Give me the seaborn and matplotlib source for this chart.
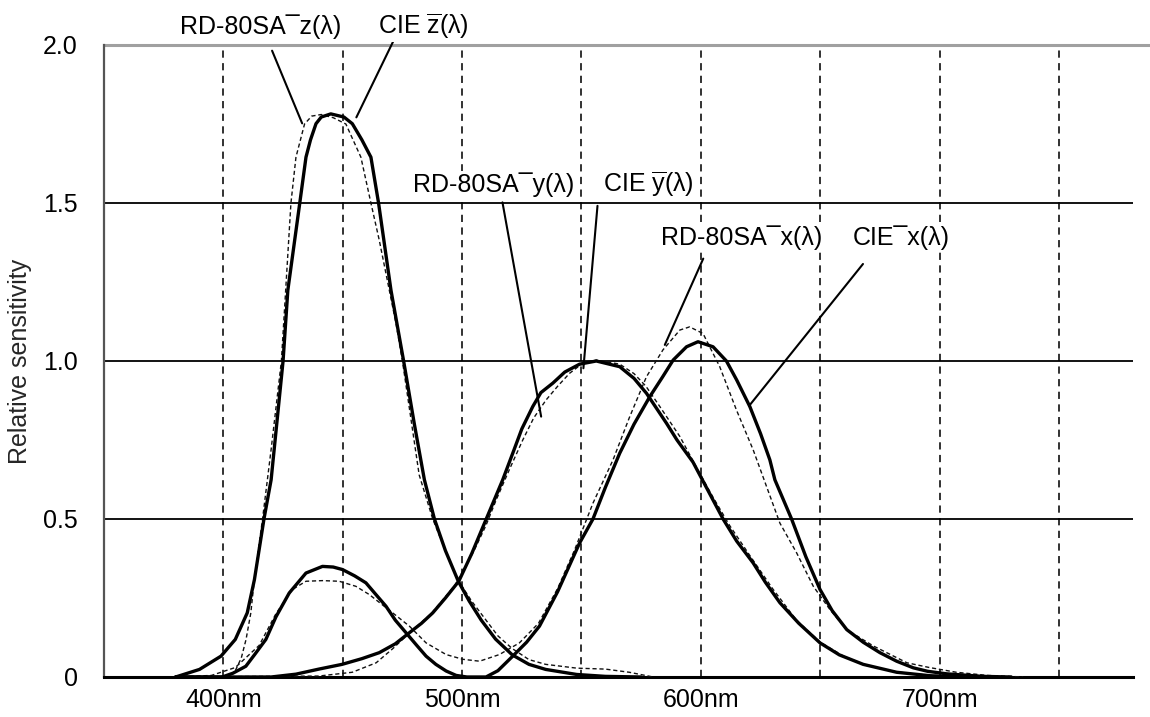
import pandas as pd
import matplotlib.pyplot as plt
import seaborn as sns

sns.set_theme(style="white")
plt.rcParams['font.family'] = ['Liberation Sans', 'DejaVu Sans']
plt.rcParams['mathtext.fontset'] = 'custom'
plt.rcParams['mathtext.rm'] = 'Liberation Sans'
plt.rcParams['mathtext.it'] = 'Liberation Sans'

# ---------------------------------------------------------
# Data (wavelength nm -> relative sensitivity)
# ---------------------------------------------------------
rd_z_wl = [380, 390, 399, 405, 410, 413, 417, 420, 425, 427, 432, 434.6, 436.5, 438.8, 441, 445,
           450.5, 454, 458, 461.8, 465, 470.2, 475.5, 480, 484.2, 488.4, 493, 498.4, 503, 508, 514,
           521, 528, 535, 548, 560, 575]
rd_z_val = [0, 0.024, 0.066, 0.119, 0.203, 0.308, 0.5, 0.624, 1.0, 1.224, 1.5, 1.645, 1.70, 1.751,
            1.772, 1.782, 1.772, 1.751, 1.70, 1.645, 1.5, 1.224, 1.0, 0.80, 0.624, 0.5, 0.40, 0.303,
            0.24, 0.18, 0.12, 0.07, 0.04, 0.024, 0.008, 0.002, 0]

cie_z_wl = [380, 402, 405, 407.5, 409.5, 411.5, 413, 416.4, 420, 424.3, 428.3, 430.4, 434, 437, 441,
            446, 451.3, 457.6, 461.8, 465.3, 472.3, 475, 482, 487.7, 493, 498, 504, 509, 515, 521,
            528, 535, 548, 560, 570, 580]
cie_z_val = [0, 0, 0.02, 0.06, 0.119, 0.203, 0.31, 0.5, 0.72, 1.0, 1.5, 1.645, 1.75, 1.775, 1.78,
             1.77, 1.75, 1.645, 1.5, 1.382, 1.119, 1.0, 0.64, 0.5, 0.4, 0.31, 0.24, 0.19, 0.13, 0.09,
             0.055, 0.04, 0.028, 0.025, 0.015, 0]

rd_y_wl = [380, 420, 430.4, 440, 449.7, 458, 465.3, 472, 477.9, 483, 487.7, 493, 498.6, 504, 510.1,
           517, 521.2, 525, 529.6, 533, 538, 543, 549.2, 556.2, 566, 572, 577.2, 585.6, 590, 596.7,
           603, 609.3, 615, 621.9, 627, 633.1, 641, 649.9, 658, 668, 682, 696, 710]
rd_y_val = [0, 0, 0.009, 0.025, 0.04, 0.058, 0.077, 0.105, 0.14, 0.17, 0.203, 0.25, 0.303, 0.39, 0.5,
            0.624, 0.708, 0.785, 0.856, 0.90, 0.93, 0.965, 0.99, 1.0, 0.982, 0.945, 0.898, 0.803,
            0.75, 0.680, 0.59, 0.5, 0.43, 0.361, 0.30, 0.235, 0.17, 0.108, 0.07, 0.04, 0.015, 0.004, 0]

cie_y_wl = [380, 440, 454, 464, 471, 478, 487, 497, 505, 510, 514.3, 520, 525.4, 530, 535.2, 540,
            545, 550, 556.2, 566, 572, 577, 582.8, 591.2, 599.5, 605, 612, 620, 630, 640, 650, 660,
            670, 682, 696, 715]
cie_y_val = [0, 0.003, 0.015, 0.045, 0.09, 0.14, 0.2, 0.29, 0.40, 0.48, 0.561, 0.66, 0.75, 0.82,
             0.877, 0.92, 0.961, 0.99, 1.003, 0.99, 0.96, 0.92, 0.856, 0.761, 0.645, 0.57, 0.48, 0.39,
             0.28, 0.18, 0.11, 0.065, 0.035, 0.016, 0.005, 0]

rd_x_wl = [380, 399.5, 404, 409.4, 413, 417.8, 422, 427.6, 434.6, 441.5, 446, 449.9, 455, 459.7, 464,
           468.1, 472, 476.5, 481, 484.9, 489, 493.3, 497.5, 502, 510, 515, 521.2, 527, 532.4, 540,
           549.2, 554.8, 560, 566, 572, 578.6, 584, 588.4, 594, 598.8, 605.1, 610.7, 615, 620.5, 625,
           628.9, 631, 638, 644, 649.9, 655, 661.1, 668, 675, 682, 689, 695, 703, 718, 730]
rd_x_val = [0, 0, 0.012, 0.034, 0.07, 0.119, 0.19, 0.266, 0.329, 0.350, 0.348, 0.34, 0.32, 0.298,
            0.26, 0.224, 0.18, 0.14, 0.10, 0.066, 0.04, 0.019, 0.005, 0, 0, 0.02, 0.066, 0.11, 0.161,
            0.27, 0.424, 0.5, 0.6, 0.708, 0.8, 0.887, 0.95, 1.003, 1.045, 1.061, 1.045, 1.0, 0.94,
            0.856, 0.77, 0.687, 0.624, 0.5, 0.38, 0.277, 0.21, 0.15, 0.11, 0.077, 0.05, 0.029, 0.018,
            0.01, 0.002, 0]

cie_x_wl = [380, 395, 405, 415, 422, 428.9, 434.6, 441.5, 448.5, 455.5, 461.1, 470.9, 477.9, 484.9,
            493.3, 500.3, 507.3, 515.6, 524, 532, 540, 547, 554.8, 563.2, 570, 577.2, 584.1, 591.2,
            595.3, 600.9, 607.9, 614.9, 621.9, 627.5, 633.1, 640.1, 647.1, 654.1, 661, 672.3, 686.3,
            695.7, 707, 720, 735]
cie_x_val = [0, 0.005, 0.03, 0.1, 0.2, 0.277, 0.303, 0.305, 0.303, 0.287, 0.261, 0.203, 0.161, 0.108,
             0.071, 0.056, 0.05, 0.071, 0.108, 0.17, 0.28, 0.40, 0.55, 0.687, 0.82, 0.95, 1.035,
             1.098, 1.108, 1.087, 0.982, 0.845, 0.719, 0.603, 0.487, 0.393, 0.287, 0.213, 0.15,
             0.098, 0.045, 0.03, 0.015, 0.005, 0]

x_ticks = [400, 500, 600, 700]
x_tick_labels = ["400nm", "500nm", "600nm", "700nm"]
x_grid = [400, 450, 500, 550, 600, 650, 700, 750]
y_ticks = [0, 0.5, 1.0, 1.5, 2.0]
y_tick_labels = ["0", "0.5", "1.0", "1.5", "2.0"]

# ---------------------------------------------------------
# Figure
# ---------------------------------------------------------
fig = plt.figure(figsize=(11.5, 7.17), dpi=100)
ax = fig.add_axes([104 / 1150, 1 - 677 / 717, (1133 - 104) / 1150, (677 - 45) / 717])

# grid
for xv in x_grid:
    ax.axvline(xv, color='#222222', lw=1.3, dashes=(4, 3), zorder=1)
for yv in [0.5, 1.0, 1.5]:
    ax.axhline(yv, color='black', lw=1.3, zorder=1)
ax.axhline(2.0, xmin=0, xmax=(1150 - 104) / (1133 - 104), color='#a0a0a0', lw=2.2, clip_on=False, zorder=1)

# curves
solid = [(rd_z_wl, rd_z_val), (rd_y_wl, rd_y_val), (rd_x_wl, rd_x_val)]
dashed = [(cie_z_wl, cie_z_val), (cie_y_wl, cie_y_val), (cie_x_wl, cie_x_val)]
for wl, val in dashed:
    sns.lineplot(x=wl, y=val, ax=ax, color='#111111', lw=1.0, estimator=None,
                 sort=False, zorder=3).lines[-1].set_dashes((3, 2))
for wl, val in solid:
    sns.lineplot(x=wl, y=val, ax=ax, color='black', lw=2.4, estimator=None, sort=False, zorder=4)

ax.set_xlim(350, 781)
ax.set_ylim(0, 2.0)
ax.set_xticks(x_ticks)
ax.set_xticklabels(x_tick_labels)
ax.set_yticks(y_ticks)
ax.set_yticklabels(y_tick_labels)
ax.tick_params(axis='both', length=0, labelsize=18, colors='black')
ax.tick_params(axis='y', pad=19)
ax.tick_params(axis='x', pad=8)
ax.set_xlabel("")
ax.set_ylabel("Relative sensitivity", fontsize=18, labelpad=8)

for side in ['top', 'right']:
    ax.spines[side].set_visible(False)
ax.spines['left'].set_color('#555555')
ax.spines['left'].set_linewidth(1.6)
ax.spines['bottom'].set_color('black')
ax.spines['bottom'].set_linewidth(2.2)

# labels with leader lines
labels = [
    ("RD-80SA\u00afz(λ)", (415.4, 2.058), (420.4, 1.982), (433.0, 1.752)),
    ("CIE $\\mathrm{\\overline{z}}$(λ)", (483.8, 2.058), (472.9, 2.039), (455.7, 1.771)),
    ("RD-80SA\u00afy(λ)", (513.2, 1.559), (516.9, 1.502), (533.1, 0.824)),
    ("CIE $\\mathrm{\\overline{y}}$(λ)", (578.2, 1.559), (556.7, 1.491), (550.8, 0.977)),
    ("RD-80SA\u00afx(λ)", (617.2, 1.389), (601.0, 1.324), (584.9, 1.051)),
    ("CIE\u00afx(λ)", (684.0, 1.389), (667.9, 1.307), (620.2, 0.858)),
]
for txt, tpos, l0, l1 in labels:
    ax.text(tpos[0], tpos[1], txt, ha='center', va='center', fontsize=18, color='black',
            clip_on=False, zorder=6, bbox=dict(facecolor='white', edgecolor='none', pad=0.5))
    ax.annotate("", xy=l1, xytext=l0, annotation_clip=False,
                arrowprops=dict(arrowstyle='-', color='black', lw=1.5, shrinkA=0, shrinkB=0))

fig.savefig("out.png", dpi=100)
